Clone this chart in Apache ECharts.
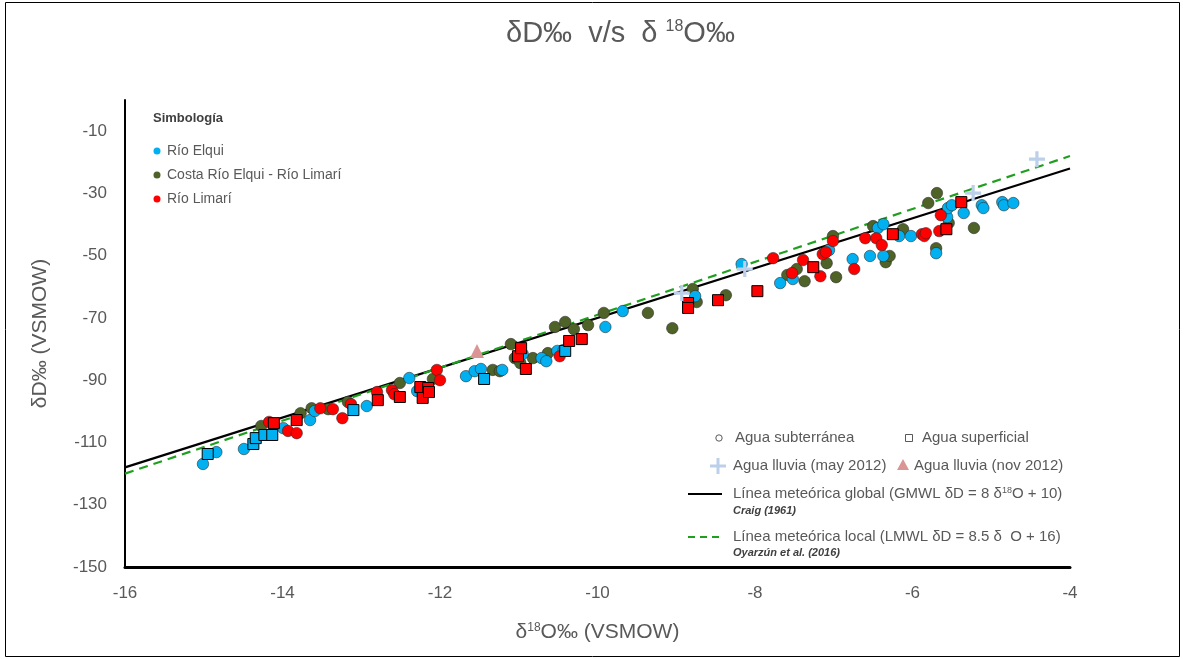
<!DOCTYPE html>
<html><head><meta charset="utf-8">
<script src="https://cdn.jsdelivr.net/npm/echarts@6/dist/echarts.min.js"></script>
<style>html,body{margin:0;padding:0;background:#fff}#c{width:1184px;height:659px}</style>
</head><body><div id="c"></div>
<script>
// ---- data (δ18O, δD) ----
const elquiSub = [[-15.01,-116.9],[-14.84,-113.1],[-14.49,-112.1],[-13.99,-105.4],[-13.65,-102.8],[-13.59,-99.9],[-12.93,-98.3],[-12.39,-89.3],[-12.29,-93.5],[-11.67,-88.7],[-11.56,-87.1],[-11.48,-86.4],[-11.21,-86.7],[-10.95,-81.6],[-10.71,-82.9],[-10.65,-83.9],[-10.51,-80.6],[-10.43,-80.3],[-9.90,-72.9],[-9.68,-67.8],[-8.76,-63.0],[-8.17,-52.7],[-7.68,-58.8],[-7.52,-57.5],[-7.06,-48.2],[-6.76,-51.1],[-6.54,-50.1],[-6.37,-50.1],[-6.44,-41.1],[-6.37,-39.9],[-6.17,-43.7],[-6.02,-43.7],[-5.56,-37.6],[-5.70,-49.2],[-5.55,-34.7],[-5.50,-33.8],[-5.35,-36.3],[-5.12,-33.8],[-5.10,-34.7],[-4.86,-32.8],[-4.84,-33.8],[-4.72,-33.1]];
const elquiSup = [[-14.95,-113.7],[-14.37,-110.5],[-14.34,-108.6],[-14.23,-107.6],[-14.13,-107.6],[-13.10,-99.6],[-11.44,-89.6],[-10.41,-80.6]];
const costaSub = [[-14.27,-104.7],[-13.77,-100.6],[-13.63,-99.0],[-13.42,-99.3],[-13.17,-97.0],[-12.51,-90.9],[-12.09,-89.6],[-11.10,-78.4],[-11.05,-82.9],[-10.98,-84.5],[-10.82,-82.9],[-11.33,-86.7],[-11.24,-87.1],[-10.63,-81.3],[-10.54,-72.9],[-10.41,-71.3],[-10.30,-73.6],[-10.12,-72.3],[-9.92,-68.4],[-9.36,-68.4],[-9.05,-73.3],[-8.79,-60.7],[-8.74,-64.9],[-8.37,-62.7],[-7.59,-56.2],[-7.47,-54.3],[-7.37,-58.2],[-7.09,-52.4],[-7.01,-43.7],[-6.97,-56.9],[-6.34,-52.1],[-6.29,-50.1],[-6.50,-40.5],[-6.12,-41.5],[-5.54,-39.5],[-5.70,-47.6],[-5.80,-33.1],[-5.69,-29.9],[-5.22,-41.1]];
const limariSub = [[-14.17,-103.4],[-13.93,-106.3],[-13.82,-107.0],[-13.52,-99.0],[-13.36,-99.3],[-13.24,-102.2],[-13.13,-97.7],[-12.80,-93.8],[-12.61,-93.2],[-12.58,-94.5],[-12.04,-86.7],[-12.00,-90.0],[-10.48,-82.3],[-7.77,-50.8],[-7.53,-55.6],[-7.39,-51.4],[-7.17,-56.6],[-7.14,-49.5],[-7.10,-48.9],[-7.01,-45.3],[-6.74,-54.3],[-6.60,-44.4],[-6.46,-44.4],[-6.39,-46.6],[-5.88,-43.1],[-5.85,-43.7],[-5.83,-42.8],[-5.66,-42.1],[-5.64,-37.0]];
const limariSup = [[-14.11,-103.8],[-13.82,-102.8],[-12.79,-96.4],[-12.51,-95.4],[-12.25,-92.2],[-12.15,-92.5],[-12.22,-95.7],[-12.14,-93.8],[-11.01,-82.3],[-10.97,-79.7],[-10.91,-86.4],[-10.36,-77.4],[-10.20,-76.8],[-8.85,-65.2],[-8.85,-66.8],[-8.47,-64.3],[-7.97,-61.4],[-7.26,-53.7],[-6.25,-43.1],[-5.57,-41.5],[-5.38,-32.8]];
const lluviaMay = [[-8.93,-62.0],[-8.13,-54.3],[-5.23,-29.9],[-4.42,-19.0]];
const lluviaNov = [[-11.53,-80.6]];
const gmwl = [[-16,-118],[-4,-22]];
const lmwl = [[-16,-120],[-4,-18]];
const xTicks = {min:-16, max:-4, step:2};
const yTicks = {min:-150, max:0, step:20};

const GRAY = '#595959';
const FONT = '"Liberation Sans", Arial, sans-serif';
const C_BLUE = '#00B0F0', C_OLIVE = '#4F6228', C_RED = '#FF0000';
const PLUS = 'path://M4,0 H6 V4 H10 V6 H6 V10 H4 V6 H0 V4 H4 Z';

const chart = echarts.init(document.getElementById('c'), null, {renderer:'canvas'});
function circ(name, data, color){
  return {name, type:'scatter', data, symbol:'circle', symbolSize:11.5, z:3,
    itemStyle:{color, borderColor:'rgba(40,40,40,0.7)', borderWidth:0.8, opacity:1}};
}
function sq(name, data, color){
  return {name, type:'scatter', data, symbol:'rect', symbolSize:11, z:4,
    itemStyle:{color, borderColor:'#000', borderWidth:1, opacity:1}};
}
const supRich = {
  n:{fontSize:15, fill:GRAY, fontFamily:FONT},
  s:{fontSize:9, fill:GRAY, fontFamily:FONT, verticalAlign:'top', lineHeight:15}
};
function legText(x, y, text, extra){
  return {type:'text', x, y, style:Object.assign({text, fill:GRAY, font:'15px '+FONT, textVerticalAlign:'middle'}, extra||{})};
}
function plusPts(cx, cy, h, t){ // plus polygon for legend icon
  return [[cx-t,cy-h],[cx+t,cy-h],[cx+t,cy-t],[cx+h,cy-t],[cx+h,cy+t],[cx+t,cy+t],[cx+t,cy+h],[cx-t,cy+h],[cx-t,cy+t],[cx-h,cy+t],[cx-h,cy-t],[cx-t,cy-t]];
}
const option = {
  backgroundColor:'#fff',
  animation:false,
  title:{
    text:'{a|δD‰  v/s  δ }{s|18}{a|O‰}', left:501, top:14,
    textStyle:{fontWeight:'normal', rich:{
      a:{fontSize:29, color:GRAY, fontFamily:FONT, fontWeight:'normal'},
      s:{fontSize:16, color:GRAY, fontFamily:FONT, fontWeight:'normal', verticalAlign:'top', lineHeight:29}
    }}
  },
  grid:{left:125, right:114, top:100, bottom:92, containLabel:false},
  xAxis:{
    type:'value', min:xTicks.min, max:xTicks.max, interval:xTicks.step,
    axisLine:{show:true, onZero:false, lineStyle:{color:'#000', width:3}},
    axisTick:{show:false}, splitLine:{show:false},
    axisLabel:{color:GRAY, fontSize:17, fontFamily:FONT, margin:18},
    name:'{n|δ}{s|18}{n|O‰ (VSMOW)}', nameLocation:'middle', nameGap:55,
    nameTextStyle:{rich:{
      n:{fontSize:21, color:GRAY, fontFamily:FONT},
      s:{fontSize:12, color:GRAY, fontFamily:FONT, verticalAlign:'top', lineHeight:21}
    }}
  },
  yAxis:{
    type:'value', min:yTicks.min, max:yTicks.max, interval:10,
    axisLine:{show:true, onZero:false, lineStyle:{color:'#000', width:2}},
    axisTick:{show:false}, splitLine:{show:false},
    axisLabel:{color:GRAY, fontSize:17, fontFamily:FONT, margin:18,
      formatter:v => ((v - yTicks.min) % yTicks.step === 0 && v < yTicks.max) ? String(v) : ''},
    name:'δD‰ (VSMOW)', nameLocation:'middle', nameGap:74,
    nameTextStyle:{color:GRAY, fontSize:21, fontFamily:FONT}
  },
  series:[
    {name:'GMWL', type:'line', data:gmwl, symbol:'none', z:2, lineStyle:{color:'#000', width:2.2}},
    {name:'LMWL', type:'line', data:lmwl, symbol:'none', z:2, lineStyle:{color:'#1EA01E', width:2.2, type:[9,6]}},
    circ('Costa sub', costaSub, C_OLIVE),
    circ('Elqui sub', elquiSub, C_BLUE),
    sq('Elqui sup', elquiSup, C_BLUE),
    circ('Limari sub', limariSub, C_RED),
    sq('Limari sup', limariSup, C_RED),
    {name:'Lluvia may', type:'scatter', data:lluviaMay, symbol:PLUS, symbolSize:16, z:5,
      itemStyle:{color:'#BDD0E9', opacity:1}},
    {name:'Lluvia nov', type:'scatter', data:lluviaNov, symbol:'triangle', symbolSize:14, z:5,
      itemStyle:{color:'#D99694', opacity:1}}
  ],
  graphic:[
    {type:'rect', shape:{x:5.5, y:2.5, width:1174, height:654}, style:{fill:'none', stroke:'#000', lineWidth:1}, z:100},
    // Simbología legend
    {type:'text', x:153, y:118, style:{text:'Simbología', fill:'#404040', font:'bold 13px '+FONT, textVerticalAlign:'middle'}},
    {type:'circle', shape:{cx:157, cy:151, r:3.5}, style:{fill:C_BLUE}},
    {type:'text', x:167, y:151, style:{text:'Río Elqui', fill:GRAY, font:'14px '+FONT, textVerticalAlign:'middle'}},
    {type:'circle', shape:{cx:157, cy:175, r:3.5}, style:{fill:C_OLIVE}},
    {type:'text', x:167, y:175, style:{text:'Costa Río Elqui - Río Limarí', fill:GRAY, font:'14px '+FONT, textVerticalAlign:'middle'}},
    {type:'circle', shape:{cx:157, cy:199, r:3.5}, style:{fill:C_RED}},
    {type:'text', x:167, y:199, style:{text:'Río Limarí', fill:GRAY, font:'14px '+FONT, textVerticalAlign:'middle'}},
    // lower-right legend
    {type:'circle', shape:{cx:719, cy:438, r:3.2}, style:{fill:'#fff', stroke:'#595959', lineWidth:1}},
    legText(735, 438, 'Agua subterránea'),
    {type:'rect', shape:{x:905.5, y:434.5, width:7, height:7}, style:{fill:'#fff', stroke:'#595959', lineWidth:1}},
    legText(922, 438, 'Agua superficial'),
    {type:'polygon', shape:{points:plusPts(718, 466, 8, 1.5)}, style:{fill:'#BDD0E9'}},
    legText(733, 466, 'Agua lluvia (may 2012)'),
    {type:'polygon', shape:{points:[[903,459],[909,470],[897,470]]}, style:{fill:'#D99694'}},
    legText(914, 466, 'Agua lluvia (nov 2012)'),
    {type:'line', shape:{x1:688, y1:494, x2:722, y2:494}, style:{stroke:'#000', lineWidth:2}},
    {type:'text', x:733, y:494, style:{text:'{n|Línea meteórica global (GMWL δD = 8 δ}{s|18}{n|O + 10)}', rich:supRich, fill:GRAY, textVerticalAlign:'middle'}},
    {type:'text', x:733, y:511, style:{text:'Craig (1961)', fill:'#404040', font:'italic bold 11px '+FONT, textVerticalAlign:'middle'}},
    {type:'line', shape:{x1:688, y1:537, x2:722, y2:537}, style:{stroke:'#1EA01E', lineWidth:2, lineDash:[7,5]}},
    legText(733, 537, 'Línea meteórica local (LMWL δD = 8.5 δ  O + 16)'),
    {type:'text', x:733, y:553, style:{text:'Oyarzún et al. (2016)', fill:'#404040', font:'italic bold 11px '+FONT, textVerticalAlign:'middle'}}
  ]
};
chart.setOption(option);
</script></body></html>
